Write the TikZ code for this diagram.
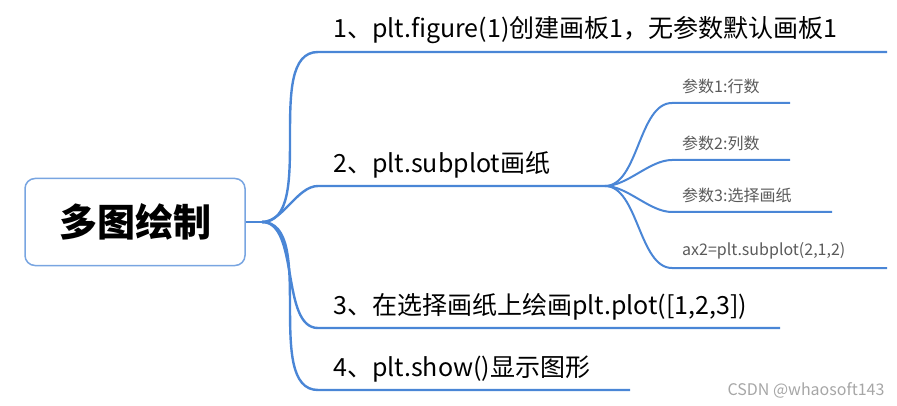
\documentclass[tikz,border=0pt]{standalone}
\usepackage{fontspec}
\setmainfont{Noto Sans CJK SC}
\definecolor{mapblue}{RGB}{74,134,214}
\definecolor{boxline}{RGB}{120,165,225}
\definecolor{subgray}{RGB}{90,90,90}
\tikzset{
  branch/.style={draw=mapblue,line width=2.4pt},
  twig/.style={draw=mapblue,line width=2pt},
  mainlabel/.style={anchor=south west,inner sep=2pt,font=\fontsize{25}{25}\selectfont},
  sublabel/.style={anchor=south west,inner sep=2pt,text=subgray,font=\fontsize{16}{16}\selectfont}
}
\begin{document}
\begin{tikzpicture}[x=1pt,y=-1pt]
   \useasboundingbox (0,0) rectangle (897,406);
   % root
   \node[draw=boxline,line width=1.5pt,rounded corners=10pt,minimum width=220pt,minimum height=87pt,
         font=\fontsize{38}{38}\selectfont\bfseries] (root) at (135,222) {多图绘制};
   \coordinate (hub) at (262,222);
   \draw[branch] (root.east) -- (hub);
   % main branches
   \coordinate (m1s) at (318,52);  \coordinate (m1e) at (887,52);
   \coordinate (m2s) at (318,186); \coordinate (m2e) at (605,186);
   \coordinate (m3s) at (318,328); \coordinate (m3e) at (780,328);
   \coordinate (m4s) at (318,390); \coordinate (m4e) at (630,390);
   \node[mainlabel] (t1) at (331,46) {1、plt.figure(1)创建画板1，无参数默认画板1};
   \node[mainlabel] (t2) at (331,180) {2、plt.subplot画纸};
   \node[mainlabel] (t3) at (331,322) {3、在选择画纸上绘画plt.plot([1,2,3])};
   \node[mainlabel] (t4) at (331,384) {4、plt.show()显示图形};
   \foreach \i in {1,...,4}
     \draw[branch] (hub) to[out=0,in=180,looseness=0.8] (m\i s) -- (m\i e);
   % sub branches
   \coordinate (s1s) at (672,103); \coordinate (s1e) at (790,103);
   \coordinate (s2s) at (672,160); \coordinate (s2e) at (790,160);
   \coordinate (s3s) at (672,212); \coordinate (s3e) at (832,212);
   \coordinate (s4s) at (672,268); \coordinate (s4e) at (887,268);
   \node[sublabel] (u1) at (680,96) {参数1:行数};
   \node[sublabel] (u2) at (680,153) {参数2:列数};
   \node[sublabel] (u3) at (680,205) {参数3:选择画纸};
   \node[sublabel] (u4) at (680,261) {ax2=plt.subplot(2,1,2)};
   \foreach \i in {1,...,4}
     \draw[twig] (m2e) to[out=0,in=180,looseness=0.8] (s\i s) -- (s\i e);
   % watermark
   \node[anchor=south east,text=gray!70,font=\fontsize{16}{16}\selectfont] (mark) at (888,402) {CSDN @whaosoft143};
\end{tikzpicture}
\end{document}
